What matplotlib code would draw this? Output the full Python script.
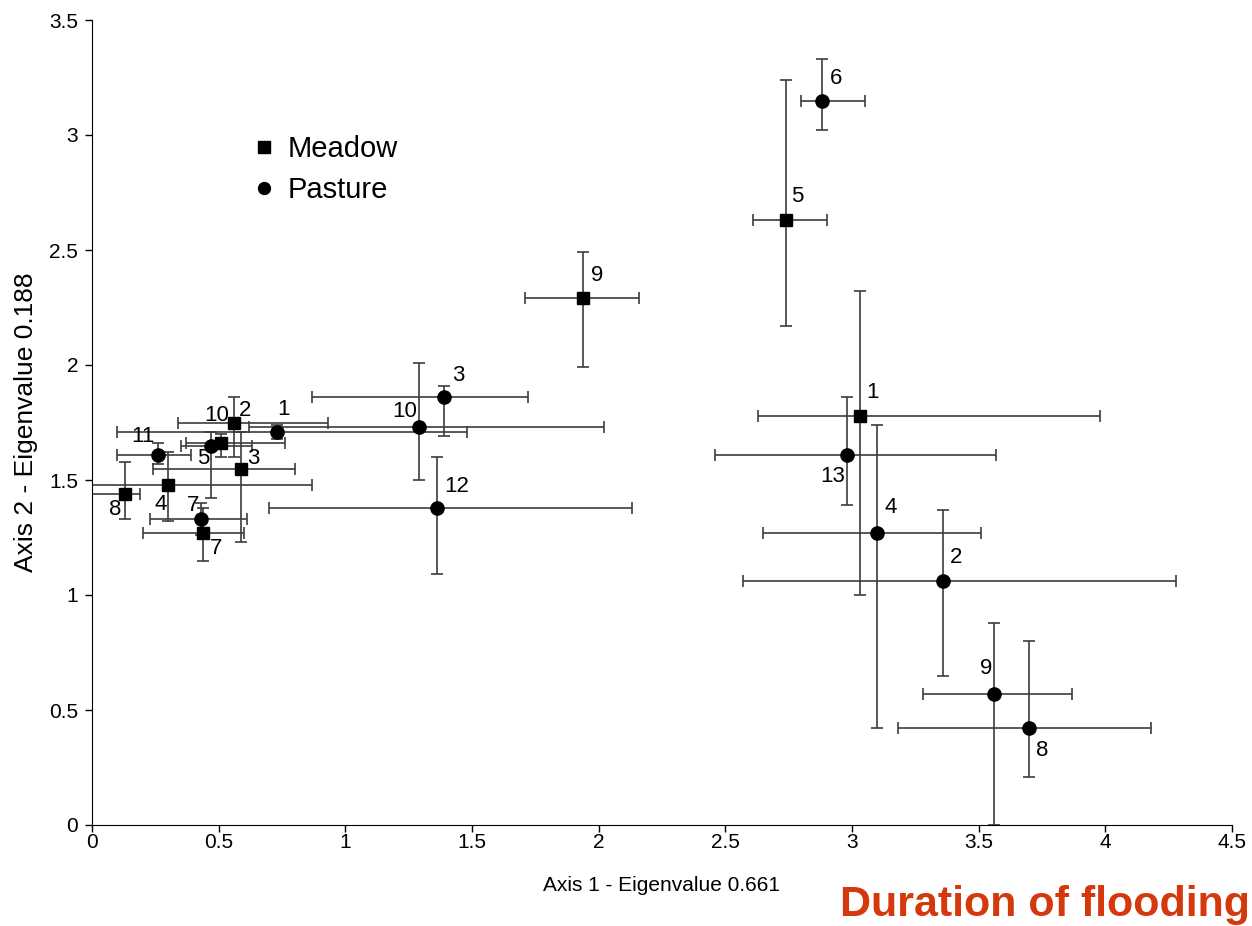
import numpy as np
import matplotlib
matplotlib.use("Agg")
import matplotlib.pyplot as plt
from matplotlib.ticker import FormatStrFormatter, MultipleLocator

plt.rcParams['font.family'] = ['Liberation Sans', 'DejaVu Sans']

# Meadow sites (squares)
meadow_ids = [1, 2, 3, 4, 5, 7, 8, 9, 10]
meadow_x = [3.03, 0.56, 0.59, 0.30, 2.74, 0.44, 0.13, 1.94, 0.51]
meadow_y = [1.78, 1.75, 1.55, 1.48, 2.63, 1.27, 1.44, 2.29, 1.66]
meadow_xerr_lo = [0.40, 0.22, 0.35, 0.30, 0.13, 0.24, 0.13, 0.23, 0.14]
meadow_xerr_hi = [0.95, 0.37, 0.21, 0.57, 0.16, 0.16, 0.06, 0.22, 0.25]
meadow_yerr_lo = [0.78, 0.15, 0.32, 0.16, 0.46, 0.12, 0.11, 0.30, 0.06]
meadow_yerr_hi = [0.54, 0.11, 0.16, 0.14, 0.61, 0.11, 0.14, 0.20, 0.04]

# Pasture sites (circles)
pasture_ids = [1, 2, 3, 4, 5, 6, 7, 8, 9, 10, 11, 12, 13]
pasture_x = [0.73, 3.36, 1.39, 3.10, 0.47, 2.88, 0.43, 3.70, 3.56, 1.29, 0.26, 1.36, 2.98]
pasture_y = [1.71, 1.06, 1.86, 1.27, 1.65, 3.15, 1.33, 0.42, 0.57, 1.73, 1.61, 1.38, 1.61]
pasture_xerr_lo = [0.63, 0.79, 0.52, 0.45, 0.12, 0.08, 0.20, 0.52, 0.28, 0.67, 0.16, 0.66, 0.52]
pasture_xerr_hi = [0.75, 0.92, 0.33, 0.41, 0.16, 0.17, 0.18, 0.48, 0.31, 0.73, 0.13, 0.77, 0.59]
pasture_yerr_lo = [0.03, 0.41, 0.17, 0.85, 0.23, 0.13, 0.07, 0.21, 0.57, 0.23, 0.04, 0.29, 0.22]
pasture_yerr_hi = [0.03, 0.31, 0.05, 0.47, 0.06, 0.18, 0.07, 0.38, 0.31, 0.28, 0.05, 0.22, 0.25]

# label offsets in pixels (right, down)
meadow_lab = {1: (13, -23), 2: (11, -12), 3: (12, -10), 4: (-7, 20), 5: (11, -24),
              7: (13, 16), 8: (-10, 16), 9: (14, -23), 10: (-5, -28)}
pasture_lab = {1: (7, -22), 2: (13, -24), 3: (14, -22), 4: (13, -25), 5: (-8, 13),
               6: (14, -22), 7: (-8, -14), 8: (13, 22), 9: (-8, -25), 10: (-14, -16),
               11: (-15, -18), 12: (20, -21), 13: (-14, 22)}

fig = plt.figure(figsize=(12.52, 9.26), dpi=100)
ax = fig.add_axes([92 / 1252, 101 / 926, 1140 / 1252, 805 / 926])

ekw = dict(fmt='none', ecolor='#3c3c3c', elinewidth=1.2, capsize=4.5, capthick=1.2, zorder=2)
ax.errorbar(meadow_x, meadow_y, xerr=[meadow_xerr_lo, meadow_xerr_hi],
            yerr=[meadow_yerr_lo, meadow_yerr_hi], **ekw)
ax.errorbar(pasture_x, pasture_y, xerr=[pasture_xerr_lo, pasture_xerr_hi],
            yerr=[pasture_yerr_lo, pasture_yerr_hi], **ekw)

ax.plot(meadow_x, meadow_y, 's', color='black', ms=9, ls='none', zorder=3, label='Meadow')
ax.plot(pasture_x, pasture_y, 'o', color='black', ms=9.5, ls='none', zorder=3, label='Pasture')

for i, x, y in zip(meadow_ids, meadow_x, meadow_y):
    dx, dy = meadow_lab[i]
    ax.annotate(str(i), (x, y), xytext=(dx, -dy), textcoords='offset pixels',
                ha='center', va='center', fontsize=16)
for i, x, y in zip(pasture_ids, pasture_x, pasture_y):
    dx, dy = pasture_lab[i]
    ax.annotate(str(i), (x, y), xytext=(dx, -dy), textcoords='offset pixels',
                ha='center', va='center', fontsize=16)

ax.set_xlim(0, 4.5)
ax.set_ylim(0, 3.5)
ax.xaxis.set_major_locator(MultipleLocator(0.5))
ax.yaxis.set_major_locator(MultipleLocator(0.5))
ax.xaxis.set_major_formatter(FormatStrFormatter('%g'))
ax.yaxis.set_major_formatter(FormatStrFormatter('%g'))
ax.tick_params(direction='out', length=5, width=1, labelsize=15)
ax.tick_params(axis='x', pad=1)
ax.tick_params(axis='y', pad=5)
for s in ['top', 'right']:
    ax.spines[s].set_visible(False)

ax.set_xlabel('Axis 1 - Eigenvalue 0.661', fontsize=15, labelpad=17)
ax.set_ylabel('Axis 2 - Eigenvalue 0.188', fontsize=19, labelpad=8)

leg = ax.legend(loc='upper left', bbox_to_anchor=(0.12, 0.89), frameon=False,
                handlelength=0.6, handletextpad=0.5, labelspacing=0.45,
                prop={'size': 21}, markerscale=0.9)

fig.text(840 / 1252, 10 / 926, 'Duration of flooding', color='#d4380d', fontsize=31,
         fontweight='bold', ha='left', va='baseline')

fig.savefig('out.png', dpi=100)
